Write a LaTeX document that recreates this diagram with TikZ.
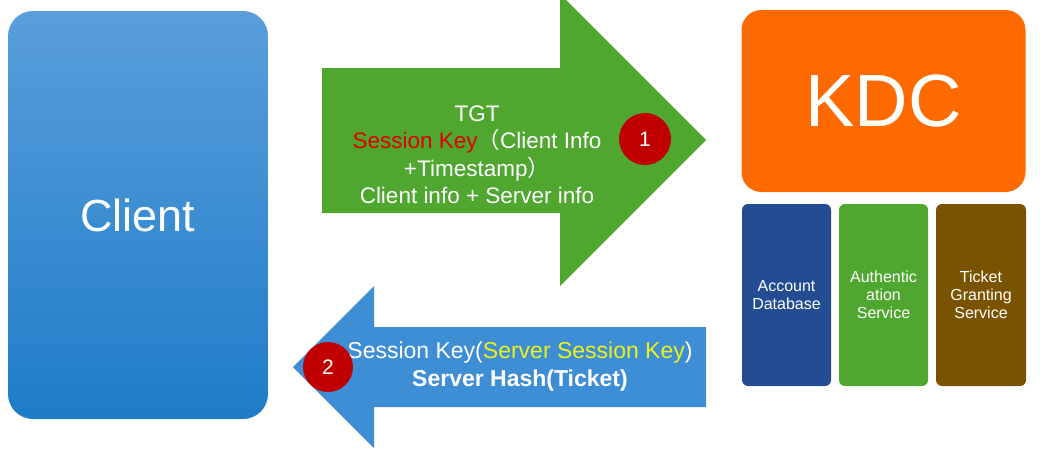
\documentclass[tikz,border=0pt]{standalone}
\usepackage{fontspec}
\setmainfont{Liberation Sans}
\newfontfamily\cjk{Noto Sans CJK SC}
\definecolor{clientTop}{HTML}{5A9EDB}
\definecolor{clientBot}{HTML}{1E7CC8}
\definecolor{greenA}{HTML}{4FA72F}
\definecolor{blueA}{HTML}{3E8ED5}
\definecolor{redC}{HTML}{C00000}
\definecolor{redT}{HTML}{E00000}
\definecolor{yellowT}{HTML}{ECF21A}
\definecolor{kdcOrange}{HTML}{FF6A00}
\definecolor{acctBlue}{HTML}{244C92}
\definecolor{svcBrown}{HTML}{7A5300}
\begin{document}
\begin{tikzpicture}[x=1pt,y=-1pt,
  numcircle/.style={circle,fill=redC,minimum size=52,inner sep=0,text=white,font=\fontsize{21}{21}\selectfont},
  subbox/.style={rounded corners=6,minimum width=89,minimum height=182,inner sep=0,align=center,text=white,font=\fontsize{16}{18}\selectfont},
  msg/.style={text=white,align=center,inner sep=0}]
\useasboundingbox (0,0) rectangle (1052,458);
\fill[white] (0,0) rectangle (1052,458);
% Client
\node[rounded corners=25,top color=clientTop,bottom color=clientBot,minimum width=260,minimum height=408,inner sep=0,text=white,font=\fontsize{45}{45}\selectfont] (client) at (138,215) {Client};
% KDC
\node[rounded corners=20,fill=kdcOrange,minimum width=284,minimum height=182,inner sep=0,text=white,font=\fontsize{74}{74}\selectfont] (kdc) at (883.5,101) {KDC};
% sub boxes
\node[subbox,fill=acctBlue] (acct) at (786.5,295) {Account\\Database};
\node[subbox,fill=greenA] (as) at (883.5,295) {Authentic\\ation\\Service};
\node[subbox,fill=svcBrown,minimum width=90] (tgs) at (981,295) {Ticket\\Granting\\Service};
% green arrow
\begin{scope}
\clip (0,0) rectangle (1052,458);
\fill[greenA] (322,68) -- (560,68) -- (560,-6) -- (706,140) -- (560,286) -- (560,213) -- (322,213) -- cycle;
\end{scope}
\node[msg,font=\fontsize{22.5}{27.5}\selectfont] (m1) at (477,155) {TGT\\{\color{redT}Session Key}{\cjk （}Client Info\\+Timestamp{\cjk ）}\\Client info + Server info};
\node[numcircle] (n1) at (645,139) {1};
% blue arrow
\fill[blueA] (706,327) -- (374,327) -- (374,286) -- (293,367) -- (374,448) -- (374,407) -- (706,407) -- cycle;
\node[msg,font=\fontsize{23}{28}\selectfont] (m2) at (520,367) {Session Key({\color{yellowT}Server Session Key})\\{\bfseries Server Hash(Ticket)}};
\node[numcircle,minimum size=50] (n2) at (328,367) {2};
\end{tikzpicture}
\end{document}
